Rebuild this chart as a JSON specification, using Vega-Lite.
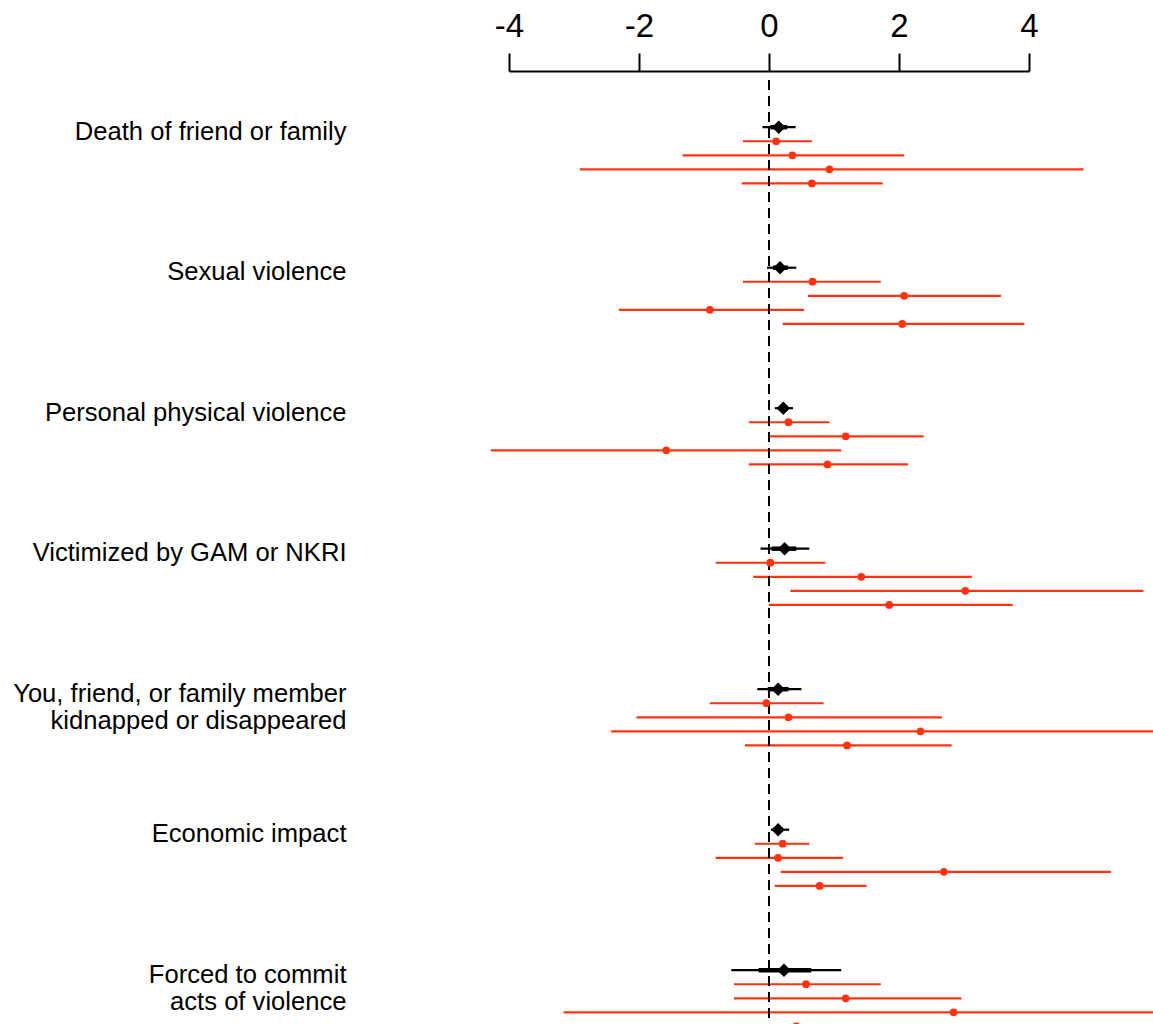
{
  "$schema": "https://vega.github.io/schema/vega-lite/v6.json",
  "autosize": "none",
  "width": 520,
  "height": 953,
  "padding": {"left": 509, "top": 71, "right": 124, "bottom": 0},
  "background": "white",
  "config": {"view": {"stroke": null}, "font": "Liberation Sans"},
  "datasets": {
    "ci": [
      {"group": "Death of friend or family", "pos": 0, "type": "pooled", "est": 0.15, "lo": -0.10, "hi": 0.41, "lo_in": 0.02, "hi_in": 0.28},
      {"group": "Death of friend or family", "pos": 1, "type": "sub", "est": 0.11, "lo": -0.40, "hi": 0.66},
      {"group": "Death of friend or family", "pos": 2, "type": "sub", "est": 0.36, "lo": -1.33, "hi": 2.08},
      {"group": "Death of friend or family", "pos": 3, "type": "sub", "est": 0.93, "lo": -2.91, "hi": 4.84},
      {"group": "Death of friend or family", "pos": 4, "type": "sub", "est": 0.66, "lo": -0.42, "hi": 1.75},
      {"group": "Sexual violence", "pos": 10, "type": "pooled", "est": 0.17, "lo": -0.03, "hi": 0.42, "lo_in": 0.06, "hi_in": 0.29},
      {"group": "Sexual violence", "pos": 11, "type": "sub", "est": 0.67, "lo": -0.40, "hi": 1.72},
      {"group": "Sexual violence", "pos": 12, "type": "sub", "est": 2.08, "lo": 0.60, "hi": 3.57},
      {"group": "Sexual violence", "pos": 13, "type": "sub", "est": -0.91, "lo": -2.31, "hi": 0.54},
      {"group": "Sexual violence", "pos": 14, "type": "sub", "est": 2.05, "lo": 0.21, "hi": 3.93},
      {"group": "Personal physical violence", "pos": 20, "type": "pooled", "est": 0.22, "lo": 0.09, "hi": 0.37, "lo_in": 0.15, "hi_in": 0.29},
      {"group": "Personal physical violence", "pos": 21, "type": "sub", "est": 0.30, "lo": -0.31, "hi": 0.93},
      {"group": "Personal physical violence", "pos": 22, "type": "sub", "est": 1.18, "lo": 0.00, "hi": 2.38},
      {"group": "Personal physical violence", "pos": 23, "type": "sub", "est": -1.58, "lo": -4.28, "hi": 1.11},
      {"group": "Personal physical violence", "pos": 24, "type": "sub", "est": 0.90, "lo": -0.31, "hi": 2.14},
      {"group": "Victimized by GAM or NKRI", "pos": 30, "type": "pooled", "est": 0.24, "lo": -0.13, "hi": 0.62, "lo_in": 0.04, "hi_in": 0.42},
      {"group": "Victimized by GAM or NKRI", "pos": 31, "type": "sub", "est": 0.02, "lo": -0.82, "hi": 0.87},
      {"group": "Victimized by GAM or NKRI", "pos": 32, "type": "sub", "est": 1.42, "lo": -0.24, "hi": 3.12},
      {"group": "Victimized by GAM or NKRI", "pos": 33, "type": "sub", "est": 3.02, "lo": 0.33, "hi": 5.76},
      {"group": "Victimized by GAM or NKRI", "pos": 34, "type": "sub", "est": 1.85, "lo": 0.00, "hi": 3.75},
      {"group": "You, friend, or family member kidnapped or disappeared", "pos": 40, "type": "pooled", "est": 0.14, "lo": -0.18, "hi": 0.50, "lo_in": -0.02, "hi_in": 0.30},
      {"group": "You, friend, or family member kidnapped or disappeared", "pos": 41, "type": "sub", "est": -0.04, "lo": -0.91, "hi": 0.84},
      {"group": "You, friend, or family member kidnapped or disappeared", "pos": 42, "type": "sub", "est": 0.30, "lo": -2.04, "hi": 2.66},
      {"group": "You, friend, or family member kidnapped or disappeared", "pos": 43, "type": "sub", "est": 2.33, "lo": -2.43, "hi": 6.5},
      {"group": "You, friend, or family member kidnapped or disappeared", "pos": 44, "type": "sub", "est": 1.20, "lo": -0.37, "hi": 2.81},
      {"group": "Economic impact", "pos": 50, "type": "pooled", "est": 0.14, "lo": 0.03, "hi": 0.31, "lo_in": 0.07, "hi_in": 0.21},
      {"group": "Economic impact", "pos": 51, "type": "sub", "est": 0.21, "lo": -0.22, "hi": 0.62},
      {"group": "Economic impact", "pos": 52, "type": "sub", "est": 0.14, "lo": -0.82, "hi": 1.14},
      {"group": "Economic impact", "pos": 53, "type": "sub", "est": 2.69, "lo": 0.18, "hi": 5.26},
      {"group": "Economic impact", "pos": 54, "type": "sub", "est": 0.78, "lo": 0.09, "hi": 1.50},
      {"group": "Forced to commit acts of violence", "pos": 60, "type": "pooled", "est": 0.23, "lo": -0.58, "hi": 1.11, "lo_in": -0.16, "hi_in": 0.65},
      {"group": "Forced to commit acts of violence", "pos": 61, "type": "sub", "est": 0.57, "lo": -0.54, "hi": 1.72},
      {"group": "Forced to commit acts of violence", "pos": 62, "type": "sub", "est": 1.18, "lo": -0.54, "hi": 2.96},
      {"group": "Forced to commit acts of violence", "pos": 63, "type": "sub", "est": 2.84, "lo": -3.16, "hi": 6.5},
      {"group": "Forced to commit acts of violence", "pos": 64, "type": "sub", "est": 0.42, "lo": -0.50, "hi": 1.40}
    ],
    "ref": [{"value": 0}]
  },
  "layer": [
    {
      "data": {"name": "ci"},
      "transform": [{"filter": "datum.type === 'sub'"}],
      "mark": {"type": "rule", "color": "#ff3311", "strokeWidth": 2.2},
      "encoding": {
        "x": {
          "field": "lo",
          "type": "quantitative",
          "scale": {"domain": [-4, 4], "nice": false, "zero": false},
          "axis": {
            "orient": "top",
            "title": null,
            "values": [-4, -2, 0, 2, 4],
            "labelExpr": "'' + datum.value",
            "grid": false,
            "domainColor": "black",
            "domainWidth": 2,
            "tickColor": "black",
            "tickWidth": 2,
            "tickSize": 18,
            "labelFontSize": 33,
            "labelColor": "black",
            "labelBaseline": "alphabetic",
            "labelPadding": 17,
            "labelFlush": false,
            "labelOverlap": false,
            "labelBound": false
          }
        },
        "x2": {"field": "hi"},
        "y": {
          "field": "pos",
          "type": "quantitative",
          "scale": {"domain": [-4, 63.83], "reverse": true, "nice": false, "zero": false},
          "axis": {
            "orient": "left",
            "title": null,
            "values": [0, 10, 20, 30, 40, 50, 60],
            "labelExpr": "['Death of friend or family', 'Sexual violence', 'Personal physical violence', 'Victimized by GAM or NKRI', ['You, friend, or family member', 'kidnapped or disappeared'], 'Economic impact', ['Forced to commit', 'acts of violence']][round(datum.value / 10)]",
            "domain": false,
            "ticks": false,
            "tickSize": 0,
            "grid": false,
            "labelPadding": 163,
            "labelFontSize": 25.6,
            "labelColor": "black",
            "labelLineHeight": 27.5,
            "labelOffset": 4,
            "labelAlign": "right",
            "labelBaseline": "middle",
            "labelBound": false,
            "labelOverlap": false,
            "labelFlush": false,
            "labelLimit": 0
          }
        }
      }
    },
    {
      "data": {"name": "ref"},
      "mark": {"type": "rule", "color": "black", "strokeWidth": 2, "strokeDash": [10, 6]},
      "encoding": {
        "x": {"field": "value", "type": "quantitative"},
        "y": {"datum": -3.36, "type": "quantitative"},
        "y2": {"datum": 66}
      }
    },
    {
      "data": {"name": "ci"},
      "transform": [{"filter": "datum.type === 'pooled'"}],
      "mark": {"type": "rule", "color": "black", "strokeWidth": 2.2},
      "encoding": {
        "x": {"field": "lo", "type": "quantitative"},
        "x2": {"field": "hi"},
        "y": {"field": "pos", "type": "quantitative"}
      }
    },
    {
      "data": {"name": "ci"},
      "transform": [{"filter": "datum.type === 'pooled'"}],
      "mark": {"type": "rule", "color": "black", "strokeWidth": 4.5},
      "encoding": {
        "x": {"field": "lo_in", "type": "quantitative"},
        "x2": {"field": "hi_in"},
        "y": {"field": "pos", "type": "quantitative"}
      }
    },
    {
      "data": {"name": "ci"},
      "transform": [{"filter": "datum.type === 'sub'"}],
      "mark": {"type": "point", "shape": "circle", "filled": true, "color": "#ff3311", "opacity": 1, "size": 60},
      "encoding": {
        "x": {"field": "est", "type": "quantitative"},
        "y": {"field": "pos", "type": "quantitative"}
      }
    },
    {
      "data": {"name": "ci"},
      "transform": [{"filter": "datum.type === 'pooled'"}],
      "mark": {"type": "point", "shape": "diamond", "filled": true, "color": "black", "opacity": 1, "size": 180},
      "encoding": {
        "x": {"field": "est", "type": "quantitative"},
        "y": {"field": "pos", "type": "quantitative"}
      }
    }
  ]
}
